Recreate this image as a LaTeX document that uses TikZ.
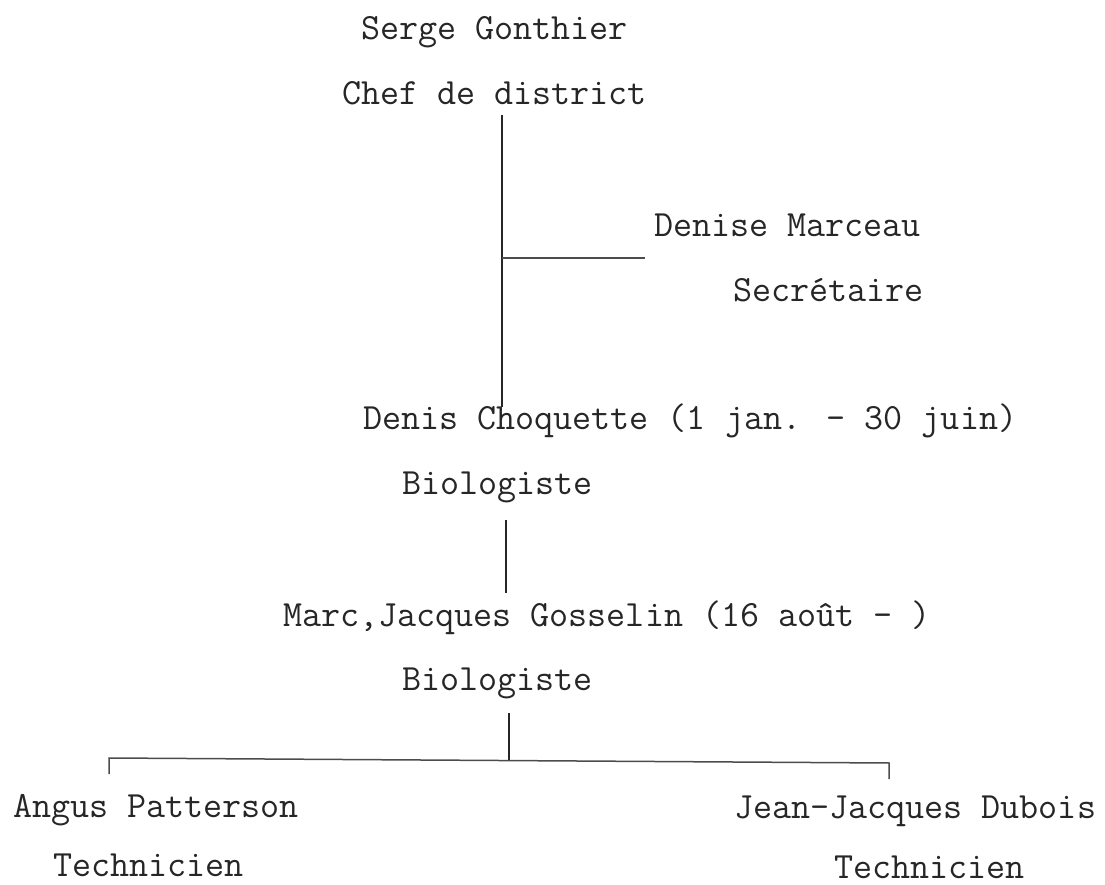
\documentclass[tikz,border=0pt]{standalone}
\begin{document}
\begin{tikzpicture}[x=1pt,y=1pt,
  lbl/.style={anchor=base west,inner sep=0pt,outer sep=0pt,text=black!85,
    font=\fontsize{37}{40}\selectfont\ttfamily},
  vline/.style={draw=black!85,line width=1.9pt},
  hline/.style={draw=black!70,line width=1.5pt}]
\useasboundingbox (0,0) rectangle (1105,884);
% texts
\node[lbl] (serge)  at (361,844) {Serge Gonthier};
\node[lbl] (chef)   at (342,779) {Chef de district};
\node[lbl] (denise) at (654,647) {Denise Marceau};
\node[lbl] (secr)   at (733,582) {Secrétaire};
\node[lbl] (choq)   at (363,454) {Denis Choquette (1 jan. - 30 juin)};
\node[lbl] (bioa)   at (402,389) {Biologiste};
\node[lbl] (marc)   at (283,258) {Marc,Jacques Gosselin (16 août - )};
\node[lbl] (biob)   at (402,194) {Biologiste};
\node[lbl] (angus)  at (13,67)   {Angus Patterson};
\node[lbl] (jean)   at (734,66)  {Jean-Jacques Dubois};
\node[lbl] (techa)  at (53,8)    {Technicien};
\node[lbl] (techb)  at (834,6)   {Technicien};
% junction coordinates
\coordinate (ctop) at (502,769);
\coordinate (cbot) at (502,477);
\coordinate (cdj)  at (502,626);
\coordinate (cde)  at (645,626);
\coordinate (btop) at (506,364);
\coordinate (bbot) at (506,291);
\coordinate (mtop) at (509,171);
\coordinate (mbot) at (509,123.5);
\coordinate (bl)   at (109,126);
\coordinate (br)   at (889,121);
\coordinate (bld)  at (109,110);
\coordinate (brd)  at (889,105);
% connectors
\draw[vline] (ctop) -- (cbot);
\draw[hline] (cdj) -- (cde);
\draw[vline] (btop) -- (bbot);
\draw[vline] (mtop) -- (mbot);
\draw[hline] (bld) -- (bl) -- (br) -- (brd);
\end{tikzpicture}
\end{document}
